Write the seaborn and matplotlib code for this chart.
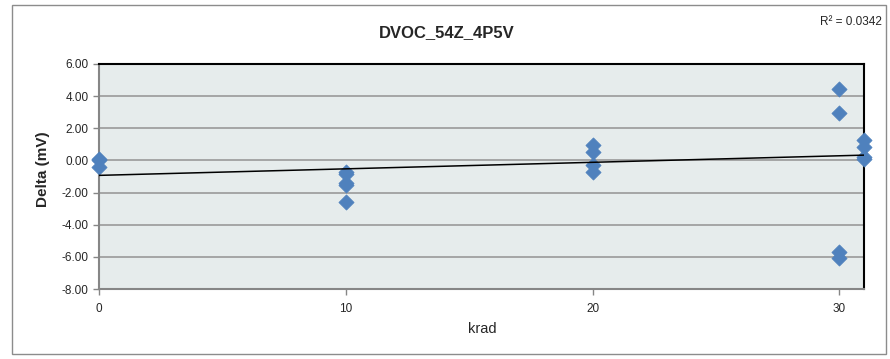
import numpy as np
import pandas as pd
import matplotlib
matplotlib.use("Agg")
import matplotlib.pyplot as plt
import seaborn as sns
from matplotlib.patches import Rectangle

# Data
krad = [0, 0, 0,
        10, 10, 10, 10, 10,
        20, 20, 20, 20,
        30, 30, 30, 30,
        31, 31, 31, 31]
delta = [0.1, 0.0, -0.4,
         -0.7, -0.85, -1.4, -1.55, -2.6,
         0.95, 0.55, -0.3, -0.7,
         4.42, 2.93, -5.7, -6.1,
         1.25, 0.85, 0.2, 0.1]
# trendline as shown on the chart (endpoints)
trend_x = [0, 31]
trend_y = [-0.93, 0.33]
x_ticks = [0, 10, 20, 30]
y_ticks = [-8, -6, -4, -2, 0, 2, 4, 6]
title = "DVOC_54Z_4P5V"
r2_text = "R² = 0.0342"

df = pd.DataFrame({"krad": krad, "delta": delta})

sns.set_style("white")
plt.rcParams['font.family'] = ['Liberation Sans', 'DejaVu Sans']

fig = plt.figure(figsize=(8.9, 3.59), dpi=100)
ax = fig.add_axes([99 / 890, 1 - 289 / 359, 765 / 890, 225 / 359])
ax.set_facecolor("#E6ECEC")

# outer chart border
fig.patches.append(Rectangle((12 / 890, 1 - 354 / 359), 874 / 890, 349 / 359,
                             transform=fig.transFigure, fill=False,
                             edgecolor="#8C8C8C", linewidth=1.0))

sns.scatterplot(data=df, x="krad", y="delta", marker="D", s=60,
                color="#4F81BD", edgecolor="#4F81BD", linewidth=0.5,
                ax=ax, zorder=3, clip_on=False)

sns.lineplot(x=trend_x, y=trend_y, color="black", linewidth=1.1, ax=ax, zorder=4)

ax.set_xlim(0, 31)
ax.set_ylim(-8, 6)
ax.set_xticks(x_ticks)
ax.set_yticks(y_ticks)
ax.set_yticklabels([f"{v:.2f}" for v in y_ticks])
ax.yaxis.grid(True, color="#9A9A9A", linewidth=1.2)
ax.set_axisbelow(True)

for side in ["left", "bottom"]:
    ax.spines[side].set_color("#868686")
    ax.spines[side].set_linewidth(1.5)
for side in ["top", "right"]:
    ax.spines[side].set_color("black")
    ax.spines[side].set_linewidth(1.5)

ax.tick_params(axis="both", which="major", labelsize=8.5, length=4,
               direction="out", color="#868686", width=1, left=True, bottom=True)
ax.tick_params(axis="x", pad=6)

ax.set_xlabel("")
ax.set_ylabel("")
fig.text(482 / 890, 1 - 329 / 359, "krad", ha="center", va="center", fontsize=10.5)
fig.text(43 / 890, 1 - 169 / 359, "Delta (mV)", rotation=90, ha="center",
         va="center", fontsize=11, fontweight="bold")

fig.text(447 / 890, 1 - 33 / 359, title, ha="center", va="center",
         fontsize=12, fontweight="bold")
fig.text(851 / 890, 1 - 22 / 359, r2_text, ha="center", va="center", fontsize=8.5)

fig.savefig("out.png", dpi=100)
